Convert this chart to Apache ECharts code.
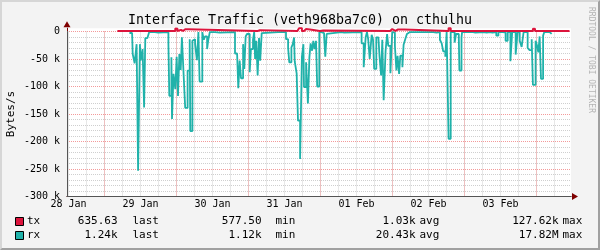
<!DOCTYPE html>
<html><head><meta charset="utf-8">
<script src="https://cdn.jsdelivr.net/npm/echarts@6/dist/echarts.min.js"></script>
<style>
html,body{margin:0;padding:0;background:#f3f3f3;}
#wrap{position:relative;width:600px;height:250px;}
#chart{width:600px;height:250px;}
#frame{position:absolute;left:0;top:0;width:600px;height:250px;box-sizing:border-box;border-style:solid;border-width:2px;border-color:#d6d6d6 #a0a0a0 #a0a0a0 #d6d6d6;pointer-events:none;}
</style></head><body>
<div id="wrap"><div id="chart"></div><div id="frame"></div></div>
<script>
const titleText = 'Interface Traffic (veth968ba7c0) on cthulhu';
const yAxisName = 'Bytes/s';
const watermark = 'RRDTOOL / TOBI OETIKER';
const dayLabels = ['28 Jan', '29 Jan', '30 Jan', '31 Jan', '01 Feb', '02 Feb', '03 Feb'];
const yTickStep = 50000;

// time = hours since 28 Jan 00:00; values in kB/s (rx drawn negative)
const rxHours = [32.3, 33.2, 33.4, 34.05, 34.7, 35.2, 35.8, 36.05, 36.7, 37.2, 37.6, 38.3, 38.9, 40.8, 41.9,
  45.3, 45.6, 46.3, 46.5, 47.0, 47.6, 48.05, 48.5, 48.95, 49.4, 49.8, 50.3, 50.9, 51.7, 52.4, 52.6, 53.3, 53.7,
  54.2, 54.8, 55.3, 55.7, 56.6, 57.1, 57.5, 58.2, 58.6, 59.1, 60.8, 62.4, 67.5, 68.2, 68.6, 69.05, 69.5, 70.2,
  70.6, 71.05, 71.5, 72.4, 72.8, 73.5, 73.9, 74.2, 74.6, 75.05, 75.5, 75.9, 76.4, 77.05, 81.9, 82.5, 84.5, 85.2,
  85.6, 86.3, 86.7, 87.2, 87.4, 88.05, 88.5, 89.2, 89.8, 90.3, 90.5, 91.2, 91.8, 92.3, 92.7, 93.2, 93.6, 94.05,
  94.5, 94.9, 95.6, 96.3, 97.2, 97.6, 98.05, 98.7, 102.9, 103.9, 109.7, 110.4, 111.05, 111.5, 111.9, 112.4,
  113.05, 113.5, 113.9, 114.6, 115.3, 115.7, 116.2, 116.6, 117.05, 117.7, 118.2, 118.6, 119.3, 119.9, 120.4,
  120.8, 121.3, 121.7, 122.2, 122.6, 123.3, 123.7, 124.2, 124.8, 125.3, 125.8, 126.4, 127.8, 128.3, 133.6,
  134.7, 135.8, 136.4, 136.9, 137.6, 138.05, 138.7, 139.4, 140.7, 141.2, 142.1, 142.3, 143.0, 143.2, 145.3,
  145.8, 146.9, 147.6, 150.3, 151.4, 152.5, 153.3, 154.6, 155.3, 156.9, 157.7, 158.4, 159.3, 159.9, 161.05,
  161.7, 162.4, 163.05, 163.7, 165.05, 165.7, 166.4, 166.8, 167.7, 168.2, 168.6, 169.05, 169.5, 170.2, 170.6,
  171.3, 171.9, 172.4, 173.05];
const rxValuesK = [-2.7, -1, -41, -58, -23, -253, -23, -53, -32, -138, -12, -14, -1, -2, -1,
  -21.5, -117, -47, -159, -77, -105, -46, -117, -41, -70, -10.6, -70, -139, -71, -14, -181, -17, -14,
  -23, -52, -1, -91, -1, -15, -9, -32, -15, -1, -2, -1, -40, -41, -103, -53, -85, -23,
  -68, -9, -4.5, -74, -32, -15, -1, -50, -17, -80, -12, -53, -3, -1, -2, -1, -14, -30,
  -56, -29, -24, -11, -54, -76, -162, -232, -46, -23, -101, -56, -131, -47, -21.5, -35, -17, -32,
  -17, -100, -1, -3, -7.5, -46, -4.5, -1, -2, -1, -21.5, -65, -10.6, -1, -14, -50,
  -6, -14, -68, -10.6, -12, -47, -80, -15, -125, -35, -4.5, -26, -76, -1, -2,
  -26, -71, -44, -77, -44, -65, -24, -15, -4.5, -1, -2, -1, -2, -1, -2,
  -1, -15, -21.5, -36, -46, -1, -195, -1, -20, -4.5, -12, -71, -10.6, -1, -2,
  -1, -2, -1, -2, -1, -2, -1, -7.5, -1, -2, -17, -1, -54, -1, -42,
  -1, -17, -28, -1, -30, -34, -14, -97, -17, -26, -38, -9, -86, -7.5, -1,
  -2, -1, -4.5, -1];
const txHours = [28.3, 35.3, 35.8, 45.6, 46.2, 46.6, 47.1, 47.6, 48.3, 48.9, 49.5, 50.2, 50.7, 50.9, 51.9,
  75.05, 75.8, 88.3, 88.9, 89.8, 90.5, 91.2, 91.8, 92.5, 95.8, 96.9, 119.2, 119.9, 121.0, 121.7, 122.2, 122.8,
  123.3, 123.9, 138.7, 139.4, 166.8, 167.5, 179];
const txValuesK = [1, 4, 1, 3, 1, 3, 1, 5.5, 1, 3, 1, 3, 1, 4, 1,
  2.5, 1, 4.5, 6.4, 1, 4.5, 1, 3.5, 1, 2, 1, 4.5, 1, 3.5, 1, 3.5, 1,
  3.5, 1, 6.4, 1, 5, 1, 1];

const seriesNames = ['tx', 'rx'];
const seriesColors = ['#dc143c', '#20b2aa'];
const legendLast = ['635.63', '1.24k'];
const legendMin = ['577.50', '1.12k'];
const legendAvg = ['1.03k', '20.43k'];
const legendMax = ['127.62k', '17.82M'];

const MONO = 'DejaVu Sans Mono';
const toPairs = (xs, ys) => xs.map((x, i) => [x, ys[i] * 1000]);

const hid = { show: false };
const grayLine = { show: true, lineStyle: { color: '#cfcfcf', type: [1, 1], width: 1 } };
const redLine = { show: true, lineStyle: { color: '#f39a9a', type: [1, 1], width: 1 } };

const legendGraphics = [];
seriesNames.forEach((name, i) => {
  const cy = 221.5 + i * 14;
  legendGraphics.push({ type: 'rect', shape: { x: 15.5, y: cy - 4, width: 8, height: 8 },
    style: { fill: seriesColors[i], stroke: '#000', lineWidth: 1 } });
  const t = (x, text, align) => ({ type: 'text', x, y: cy,
    style: { text, fill: '#000', font: '11px ' + MONO, textAlign: align, textVerticalAlign: 'middle' } });
  legendGraphics.push(t(27, name, 'left'));
  legendGraphics.push(t(117.5, legendLast[i], 'right'));
  legendGraphics.push(t(132.5, 'last', 'left'));
  legendGraphics.push(t(261.5, legendMin[i], 'right'));
  legendGraphics.push(t(275.5, 'min', 'left'));
  legendGraphics.push(t(415.5, legendAvg[i], 'right'));
  legendGraphics.push(t(419.5, 'avg', 'left'));
  legendGraphics.push(t(558.5, legendMax[i], 'right'));
  legendGraphics.push(t(562.5, 'max', 'left'));
});

const xBase = { type: 'value', position: 'bottom', axisTick: hid };
const yBase = { type: 'value', position: 'left', axisTick: hid };
const gBase = { outerBoundsMode: 'none', containLabel: false };

const chart = echarts.init(document.getElementById('chart'), null, { renderer: 'canvas' });
chart.setOption({
  animation: false,
  backgroundColor: '#f3f3f3',
  title: { text: titleText, left: 'center', top: 9,
    textStyle: { fontFamily: MONO, fontSize: 13.3, fontWeight: 'normal', color: '#000' } },
  grid: [
    { ...gBase, left: 67, top: 28.2, width: 504, height: 168.3, show: true, backgroundColor: '#fff', borderWidth: 0, z: 0 },
    { ...gBase, left: 67, top: 31.5, width: 504, height: 165, z: 1 },
    { ...gBase, left: 68.5, top: 31.5, width: 486, height: 165, z: 1 },
    { ...gBase, left: 104.5, top: 31.5, width: 432, height: 165, z: 1 }
  ],
  xAxis: [
    { ...xBase, gridIndex: 0, min: 11.5, max: 179.5, z: 4,
      axisLine: { show: true, onZero: false, symbol: ['none', 'triangle'], symbolSize: [7, 6], symbolOffset: [0, 4],
        lineStyle: { color: '#7f0000', width: 1 } },
      axisLabel: hid, splitLine: hid },
    { ...xBase, gridIndex: 1, min: 11.5, max: 179.5, z: 5,
      axisLine: { show: true, onZero: false, lineStyle: { color: '#555', width: 1 } },
      axisLabel: hid, splitLine: hid },
    { ...xBase, gridIndex: 2, min: 12, max: 174, interval: 6, z: 1,
      axisLine: { show: false, onZero: false }, splitLine: grayLine,
      axisLabel: { show: true, interval: 3, margin: 3, fontFamily: MONO, fontSize: 10, color: '#000',
        formatter: v => { const k = (v - 12) / 24; return Number.isInteger(k) && dayLabels[k] ? dayLabels[k] : ''; } } },
    { ...xBase, gridIndex: 3, min: 24, max: 168, interval: 24, z: 2,
      axisLine: { show: false, onZero: false }, axisLabel: hid, splitLine: redLine }
  ],
  yAxis: [
    { ...yBase, gridIndex: 0, min: -300000, max: 6000, z: 4,
      axisLine: { show: true, onZero: false, symbol: ['none', 'triangle'], symbolSize: [7, 6], symbolOffset: [0, 4],
        lineStyle: { color: '#7f0000', width: 1 } },
      axisLabel: hid, splitLine: hid },
    { ...yBase, gridIndex: 1, min: -300000, max: 0, interval: 10000, z: 1,
      axisLine: { show: false, onZero: false }, axisLabel: hid, splitLine: grayLine },
    { ...yBase, gridIndex: 1, min: -300000, max: 0, interval: yTickStep, z: 5, offset: 0,
      axisLine: { show: true, onZero: false, lineStyle: { color: '#555', width: 1 } },
      splitLine: redLine,
      name: yAxisName, nameLocation: 'middle', nameGap: 50, nameRotate: 90, nameMoveOverlap: false,
      nameTextStyle: { fontFamily: MONO, fontSize: 11, color: '#000' },
      axisLabel: { show: true, margin: 7, fontFamily: MONO, fontSize: 10, color: '#000',
        formatter: v => v === 0 ? '0' : (v / 1000) + ' k' } },
    { ...yBase, gridIndex: 2, min: -300000, max: 0, show: false },
    { ...yBase, gridIndex: 3, min: -300000, max: 0, show: false }
  ],
  series: [
    { name: seriesNames[1], type: 'line', xAxisIndex: 0, yAxisIndex: 0, step: 'end', showSymbol: false,
      data: toPairs(rxHours, rxValuesK), lineStyle: { color: seriesColors[1], width: 1.8 }, z: 6, clip: true },
    { name: seriesNames[0], type: 'line', xAxisIndex: 0, yAxisIndex: 0, step: 'end', showSymbol: false,
      data: toPairs(txHours, txValuesK), lineStyle: { color: seriesColors[0], width: 2 }, z: 7, clip: true }
  ],
  graphic: [
    { type: 'text', x: 591, y: 60, rotation: -Math.PI / 2,
      style: { text: watermark, fill: '#b4b4b4', font: '8px ' + MONO, textAlign: 'center', textVerticalAlign: 'middle' } },
    ...legendGraphics
  ]
});
</script>
</body></html>
